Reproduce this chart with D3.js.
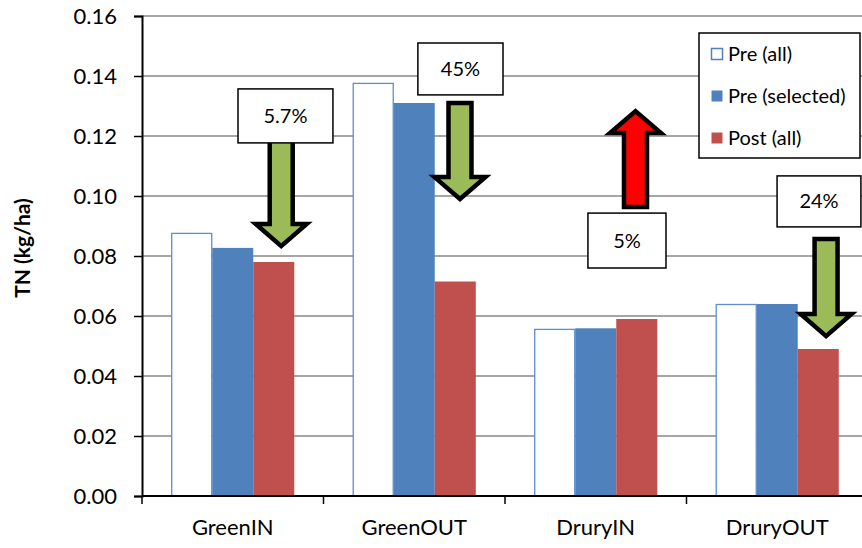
<!DOCTYPE html>
<html><head><meta charset="utf-8">
<script src="https://cdn.jsdelivr.net/npm/d3@7"></script>
<style>body{margin:0;background:#fff}svg{display:block}</style>
</head><body><svg id="c" width="862" height="548"></svg>
<script>
const categories = ["GreenIN","GreenOUT","DruryIN","DruryOUT"];
const seriesNames = ["Pre (all)","Pre (selected)","Post (all)"];
const preAll = [0.0877, 0.1377, 0.0557, 0.0640];
const preSelected = [0.0827, 0.1310, 0.0559, 0.0640];
const postAll = [0.0780, 0.0715, 0.0590, 0.0490];
const yTicks = [0,0.02,0.04,0.06,0.08,0.10,0.12,0.14,0.16];
// annotations: x in continuous category units, y in data units
const boxLabels = ["5.7%","45%","5%","24%"];
const boxX0 = [0.529,1.520,2.457,3.499];
const boxX1 = [1.052,1.989,2.887,3.961];
const boxY0 = [0.1357,0.1510,0.0943,0.1067];
const boxY1 = [0.1177,0.1337,0.0760,0.0897];
const arrowDir = ["down","down","up","down"];
const arrowX = [0.767,1.752,2.719,3.769];
const arrowStart = [0.1187,0.1310,0.0963,0.0857];
const arrowHeadBase = [0.0907,0.1063,0.1210,0.0607];
const arrowTip = [0.0833,0.0990,0.1283,0.0533];
const arrowFill = ["#9BBB59","#9BBB59","#FF0000","#9BBB59"];

const svg = d3.select("#c");
const L = 142, R = 868, T = 16, B = 496;
const FONT = "Lato, 'Open Sans', sans-serif";
const y = d3.scaleLinear().domain([0,0.16]).range([B,T]);
const x0 = d3.scaleBand().domain(categories).range([L,R]).padding(0);
const bw = x0.bandwidth();
const gw = bw*0.678;
const x1 = d3.scaleBand().domain(seriesNames).range([(bw-gw)/2,(bw+gw)/2]).padding(0);
const xc = d3.scaleLinear().domain([0,categories.length]).range([L,R]);

// gridlines
svg.append("g").selectAll("line").data(yTicks.slice(1)).join("line")
  .attr("x1",L).attr("x2",R).attr("y1",d=>y(d)).attr("y2",d=>y(d))
  .attr("stroke","#888").attr("stroke-width",1.3);

// bars
const seriesData = [preAll, preSelected, postAll];
const fills = ["#fff","#4F81BD","#C0504D"];
const strokes = ["#5B8FD0","none","none"];
seriesData.forEach((vals,si)=>{
  svg.append("g").selectAll("rect").data(vals).join("rect")
    .attr("x",(d,i)=>x0(categories[i])+x1(seriesNames[si]) + (si===0?0.5:0))
    .attr("y",d=>y(d)+(si===0?0.5:0))
    .attr("width",x1.bandwidth()-(si===0?1:0))
    .attr("height",d=>B-y(d)-(si===0?0.5:0))
    .attr("fill",fills[si]).attr("stroke",strokes[si]).attr("stroke-width",1.3);
});

// y axis
const ya = svg.append("g").attr("transform",`translate(${L},0)`)
  .call(d3.axisLeft(y).tickValues(yTicks).tickFormat(d3.format(".2f")).tickSize(8).tickPadding(17));
ya.select(".domain").attr("stroke","#000").attr("stroke-width",2);
ya.selectAll(".tick line").attr("stroke","#000").attr("stroke-width",1.5);
ya.selectAll("text").attr("font-family",FONT).attr("font-size",22).attr("fill","#000");

// x axis
const xa = svg.append("g").attr("transform",`translate(0,${B})`);
xa.append("line").attr("x1",L).attr("x2",R).attr("stroke","#000").attr("stroke-width",2);
xa.selectAll("line.t").data(d3.range(categories.length+1)).join("line").attr("class","t")
  .attr("x1",d=>xc(d)).attr("x2",d=>xc(d)).attr("y1",0).attr("y2",8)
  .attr("stroke","#000").attr("stroke-width",1.5);
xa.selectAll("text").data(categories).join("text")
  .attr("x",d=>x0(d)+bw/2).attr("y",39).attr("text-anchor","middle")
  .attr("font-family",FONT).attr("font-size",22).attr("fill","#000").text(d=>d);

// y title
svg.append("text").attr("transform",`translate(23,${(T+B)/2 - 8}) rotate(-90)`)
  .attr("text-anchor","middle").attr("dy","0.35em").attr("font-family",FONT).attr("font-weight","bold")
  .attr("font-size",21).text("TN (kg/ha)");

// legend
const lg = svg.append("g");
lg.append("rect").attr("x",699).attr("y",33).attr("width",161).attr("height",125)
  .attr("fill","#fff").attr("stroke","#000").attr("stroke-width",1.5);
seriesNames.forEach((s,i)=>{
  const cy = 54 + i*42;
  lg.append("rect").attr("x",711.5).attr("y",cy-5.5).attr("width",11).attr("height",11)
    .attr("fill",fills[i]).attr("stroke",i===0?"#4F81BD":"none").attr("stroke-width",1.5);
  lg.append("text").attr("x",728).attr("y",cy).attr("dy","0.35em")
    .attr("font-family",FONT).attr("font-size",20).attr("fill","#000").text(s);
});

// arrows
const ann = svg.append("g");
arrowDir.forEach((dir,i)=>{
  const cx = xc(arrowX[i]);
  const ys = y(arrowStart[i]), yh = y(arrowHeadBase[i]), yt = y(arrowTip[i]);
  const sw = 11.5, hw = 25.5;
  const pts = [[cx-sw,ys],[cx+sw,ys],[cx+sw,yh],[cx+hw,yh],[cx,yt],[cx-hw,yh],[cx-sw,yh]];
  ann.append("path").attr("d",d3.line()(pts)+"Z")
    .attr("fill",arrowFill[i]).attr("stroke","#000").attr("stroke-width",4.5)
    .attr("stroke-linejoin","miter");
});
// boxes
boxLabels.forEach((t,i)=>{
  const bx0 = xc(boxX0[i]), bx1 = xc(boxX1[i]), by0 = y(boxY0[i]), by1 = y(boxY1[i]);
  ann.append("rect").attr("x",bx0).attr("y",by0).attr("width",bx1-bx0).attr("height",by1-by0)
    .attr("fill","#fff").attr("stroke","#000").attr("stroke-width",1.5);
  ann.append("text").attr("x",(bx0+bx1)/2).attr("y",(by0+by1)/2).attr("dy","0.35em")
    .attr("text-anchor","middle").attr("font-family",FONT).attr("font-size",20).attr("fill","#000").text(t);
});
</script></body></html>
